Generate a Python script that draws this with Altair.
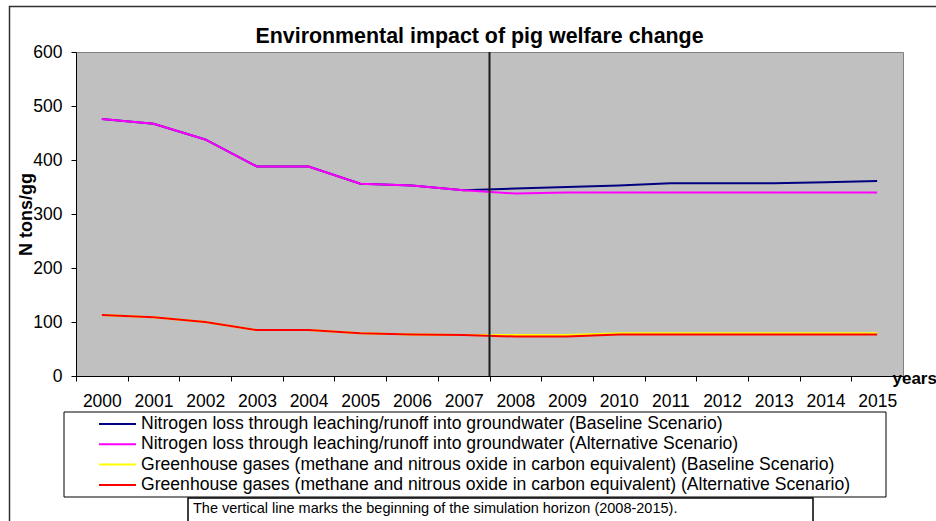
import altair as alt
import pandas as pd

years = [str(y) for y in range(2000, 2016)]
series_names = [
    "Nitrogen loss through leaching/runoff  into groundwater (Baseline Scenario)",
    "Nitrogen loss through leaching/runoff  into groundwater (Alternative Scenario)",
    "Greenhouse gases (methane and nitrous oxide in carbon equivalent) (Baseline Scenario)",
    "Greenhouse gases (methane and nitrous oxide in carbon equivalent) (Alternative Scenario)",
]
series_colors = ["#000080", "#FF00FF", "#FFFF00", "#FF0000"]

n_base = [476, 467, 438, 388, 388, 356, 353, 344, 347, 350, 353, 357, 357, 357, 359, 361]
n_alt = [476, 467, 438, 388, 388, 356, 353, 344, 338, 340, 340, 340, 340, 340, 340, 340]
ghg_base = [113, 109, 100, 85, 85, 79, 77, 76, 76, 76, 79, 79, 79, 79, 79, 79]
ghg_alt = [113, 109, 100, 85, 85, 79, 77, 76, 73, 73, 77, 77, 77, 77, 77, 77]

marker_year = ["2008"]
title_text = "Environmental impact of pig welfare change"
y_title = "N tons/gg"
x_title = "years"
note_text = "The vertical line marks the beginning of the simulation horizon (2008-2015)."

rows = []
for name, vals in zip(series_names, [n_base, n_alt, ghg_base, ghg_alt]):
    for yr, v in zip(years, vals):
        rows.append({"year": yr, "value": v, "series": name})
df = pd.DataFrame(rows)

FONT = "Liberation Sans"
W, H = 827, 324

xscale = alt.Scale(type="band", domain=years, paddingInner=0, paddingOuter=0)

# outer chart frame (decorative)
frame = alt.Chart(pd.DataFrame({"a": [0]})).mark_rect(
    fill="transparent", stroke="#303030", strokeWidth=1.5, clip=False
).encode(
    x=alt.value(-66.5), x2=alt.value(W + 60), y=alt.value(-45.5), y2=alt.value(H + 200)
)

title = alt.Chart(pd.DataFrame({"t": [title_text]})).mark_text(
    align="center", baseline="alphabetic", fontSize=21.4, fontWeight="bold",
    font=FONT, color="black"
).encode(x=alt.value(403.5), y=alt.value(-9), text="t:N")

lines = alt.Chart(df).mark_line(strokeWidth=2).encode(
    x=alt.X(
        "year:O",
        scale=xscale,
        bandPosition=0.5,
        axis=alt.Axis(
            title=x_title,
            labelAngle=0,
            labelFontSize=17.5,
            labelColor="black",
            labelPadding=11,
            tickSize=5,
            tickColor="black",
            domainColor="black",
            tickBand="extent",
            titleFontSize=17,
            titleFontWeight="bold",
            titleColor="black",
            titleX=816,
            titleY=7.5,
            titleAlign="left",
            titleBaseline="alphabetic",
        ),
    ),
    y=alt.Y(
        "value:Q",
        scale=alt.Scale(domain=[0, 600]),
        axis=alt.Axis(
            title=y_title,
            values=[0, 100, 200, 300, 400, 500, 600],
            grid=False,
            labelFontSize=17.5,
            labelColor="black",
            labelPadding=9,
            tickSize=5,
            tickColor="black",
            domainColor="black",
            titleFontSize=18,
            titleFontWeight="bold",
            titleColor="black",
            titleAngle=270,
            titleX=-45,
            titleY=H / 2,
            titleAlign="center",
            titleBaseline="alphabetic",
        ),
    ),
    color=alt.Color(
        "series:N",
        scale=alt.Scale(domain=series_names, range=series_colors),
        legend=alt.Legend(
            title=None,
            orient="none",
            legendX=30.5,
            legendY=361,
            direction="vertical",
            symbolType="M-1.85,0H1.85",
            symbolSize=400,
            symbolStrokeWidth=2,
            labelFontSize=17.6,
            labelColor="black",
            labelOffset=12.5,
            labelLimit=1000,
            rowPadding=0.3,
            padding=0,
        ),
    ),
)

vline = alt.Chart(pd.DataFrame({"year": marker_year})).mark_rule(
    color="#1a1a1a", strokeWidth=2
).encode(x=alt.X("year:O", scale=xscale, bandPosition=0))

legend_box = alt.Chart(pd.DataFrame({"a": [0]})).mark_rect(
    fill="white", stroke="black", strokeWidth=1, clip=False
).encode(x=alt.value(-12), x2=alt.value(810), y=alt.value(360), y2=alt.value(445))

note_box = alt.Chart(pd.DataFrame({"a": [0]})).mark_rect(
    fill="white", stroke="black", strokeWidth=1.5, clip=False
).encode(x=alt.value(112), x2=alt.value(737), y=alt.value(446), y2=alt.value(472))

note = alt.Chart(pd.DataFrame({"t": [note_text]})).mark_text(
    align="left", baseline="middle", fontSize=14.5, font=FONT, color="black"
).encode(x=alt.value(117), y=alt.value(457), text="t:N")

chart = alt.layer(frame, title, legend_box, note_box, note, lines, vline).properties(
    width=W,
    height=H,
    autosize=alt.AutoSizeParams(type="none"),
    padding={"left": 76, "top": 52, "right": 33, "bottom": 145},
).configure(font=FONT).configure_view(
    fill="#C0C0C0", stroke="#808080", strokeWidth=1
)

chart.save("out.html", embed_options={"renderer": "svg", "actions": False})
